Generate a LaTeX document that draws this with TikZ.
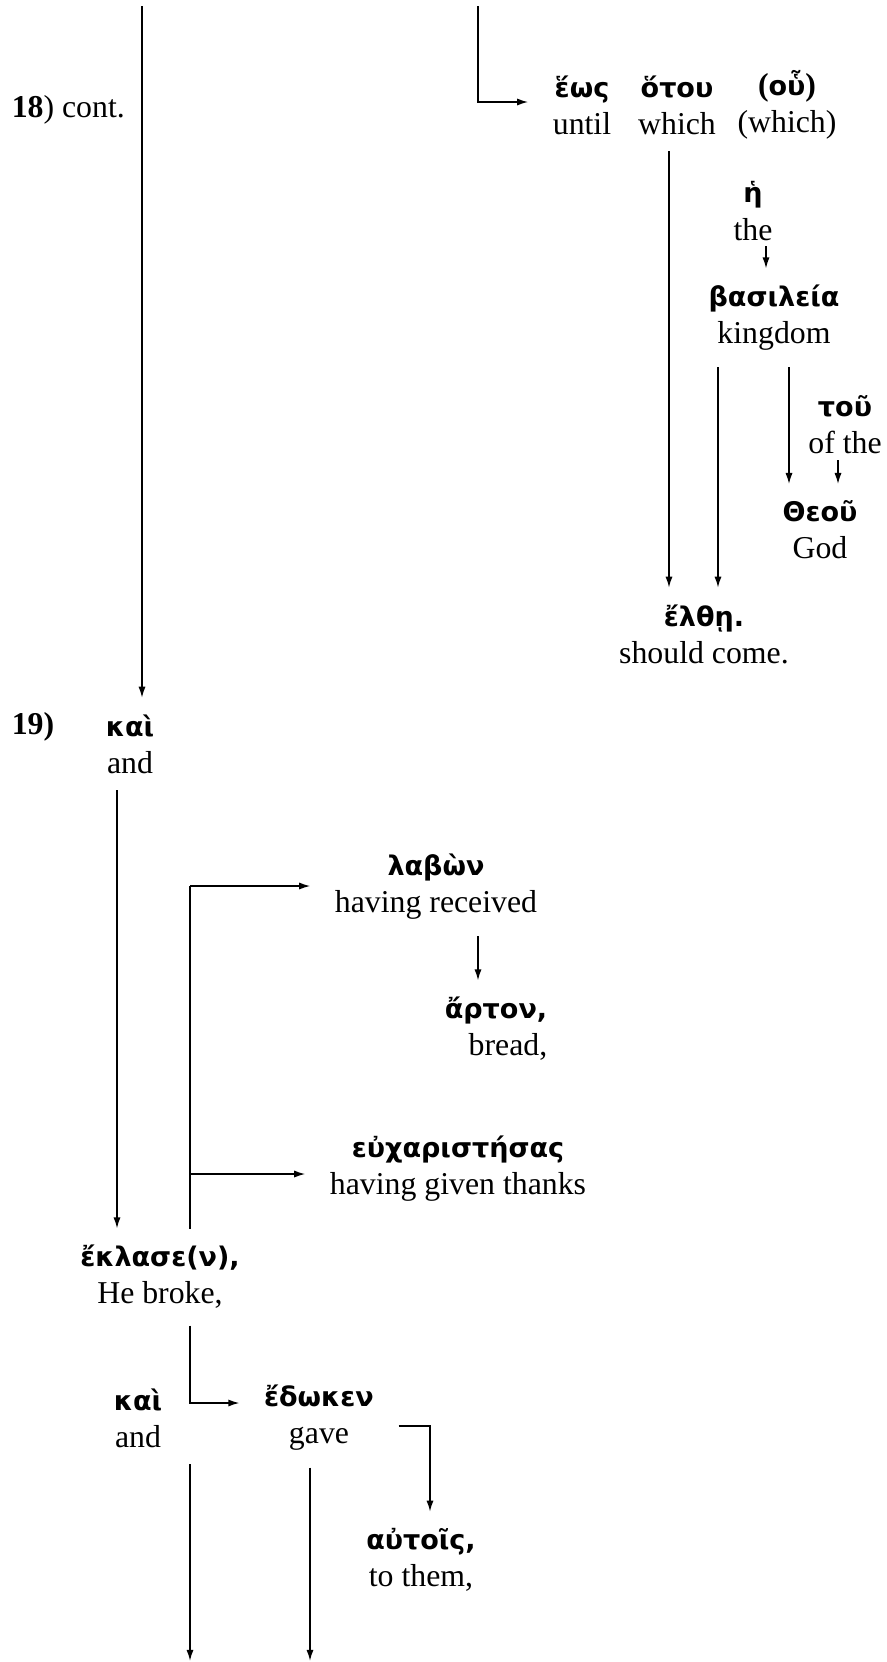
\documentclass[tikz,border=0pt]{standalone}
\usepackage{fontspec}
\setmainfont{Liberation Serif}
\newfontfamily\grk[Scale=0.85]{DejaVu Sans}
\newcommand{\gk}[1]{{\grk\bfseries #1}}
\usetikzlibrary{arrows.meta}
\begin{document}
\begin{tikzpicture}[x=0.3774pt,y=-0.3774pt,>={Latex[length=4.2pt,width=2.7pt]},line width=0.6pt,
  font=\fontsize{12}{14}\selectfont,
  wd/.style={align=center,inner xsep=9pt,inner ysep=6pt}]
\useasboundingbox (0,0) rectangle (887,1662);
% verse 18
\node[anchor=west,inner sep=0] (v18) at (11,110) {\textbf{18}) cont.};
\node[wd] (hos) at (582,105) {\gk{ἕως}\\until};
\node[wd] (hotou) at (677,105) {\gk{ὅτου}\\which};
\node[wd] (hou) at (787,105) {\textbf{(}\gk{οὗ}\textbf{)}\\(which)};
\node[wd] (he) at (753,211) {\gk{ἡ}\\the};
\node[wd] (basileia) at (774,318) {\gk{βασιλεία}\\kingdom};
\node[wd] (tou) at (845,425) {\gk{τοῦ}\\of the};
\node[wd] (theou) at (820,530) {\gk{Θεοῦ}\\God};
\node[wd] (elthe) at (704,634) {\gk{ἔλθῃ.}\\should come.};
% verse 19
\node[inner sep=0] (v19) at (33,727) {\textbf{19)}};
\node[wd] (kai1) at (130,744) {\gk{καὶ}\\and};
\node[wd] (labon) at (436,887) {\gk{λαβὼν}\\having received};
\node[wd,align=right] (arton) at (496,1029) {\gk{ἄρτον,}\\bread,};
\node[wd] (eucharist) at (458,1169) {\gk{εὐχαριστήσας}\\having given thanks};
\node[wd] (eklase) at (160,1277) {\gk{ἔκλασε(ν),}\\He broke,};
\node[wd] (kai2) at (138,1418) {\gk{καὶ}\\and};
\node[wd] (edoken) at (319,1418) {\gk{ἔδωκεν}\\gave};
\node[wd] (autois) at (421,1560) {\gk{αὐτοῖς,}\\to them,};
% line positions
\coordinate (t1) at (142,6);
\coordinate (t2) at (478,6);
\coordinate (b2) at (478,102);
\coordinate (x3) at (669,0);
\coordinate (x4) at (766,0);
\coordinate (x5) at (718,0);
\coordinate (x6) at (789,0);
\coordinate (x7) at (838,0);
\coordinate (x8) at (117,0);
\coordinate (x9) at (190,0);
\coordinate (b9) at (190,886);
\coordinate (b10) at (190,1174);
\coordinate (x11) at (478,0);
\coordinate (b12) at (190,1403);
\coordinate (b14) at (430,1426);
\coordinate (f1) at (190,1661);
\coordinate (f2) at (310,1661);
% connectors
\draw[->] (t1) -- (t1 |- kai1.north);
\draw[->] (t2) -- (b2) -- (b2 -| hos.west);
\draw[->] (x3 |- hotou.south) -- (x3 |- elthe.north);
\draw[->,shorten <=-4pt] (x4 |- he.south) -- (x4 |- basileia.north);
\draw[->] (x5 |- basileia.south) -- (x5 |- elthe.north);
\draw[->] (x6 |- basileia.south) -- (x6 |- theou.north);
\draw[->,shorten <=-4pt] (x7 |- tou.south) -- (x7 |- theou.north);
\draw[->] (x8 |- kai1.south) -- (x8 |- eklase.north);
\draw (x9 |- eklase.north) -- (b9);
\draw[->] (b9) -- (b9 -| labon.west);
\draw[->] (b10) -- (b10 -| eucharist.west);
\draw[->] (x11 |- labon.south) -- (x11 |- arton.north);
\draw[->] (x9 |- eklase.south) -- (b12) -- (b12 -| edoken.west);
\draw[->] (b14 -| edoken.east) -- (b14) -- (b14 |- autois.north);
\draw[->] (x9 |- kai2.south) -- (f1);
\draw[->] (edoken.south -| f2) -- (f2);
\end{tikzpicture}
\end{document}
